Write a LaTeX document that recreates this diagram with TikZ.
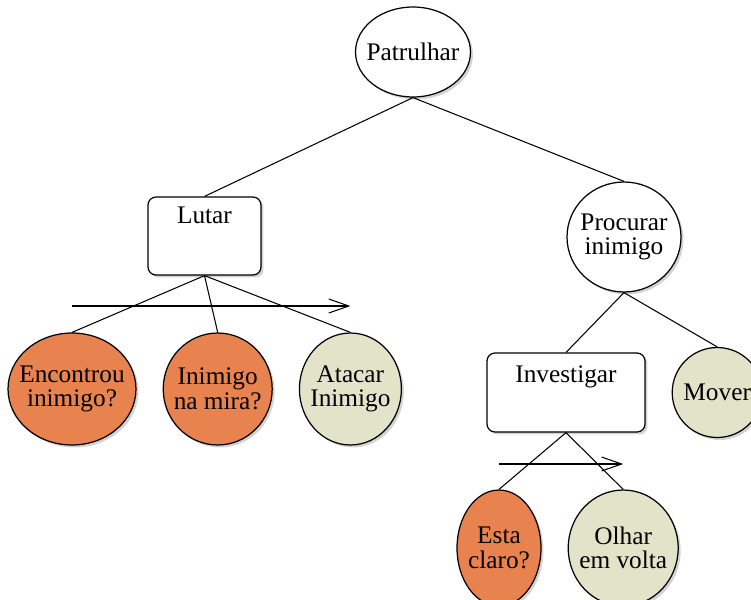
\documentclass[tikz,border=0pt]{standalone}
\usepackage{fontspec}
\setmainfont{Liberation Serif}
\usetikzlibrary{positioning,arrows.meta,shapes,shadows}

\definecolor{condorange}{HTML}{E8824F}
\definecolor{actbeige}{HTML}{E3E3C9}

\begin{document}
\begin{tikzpicture}[x=0.02cm, y=-0.02cm, node distance=0.52cm,
    every node/.style={font=\fontsize{14.4}{14}\selectfont, align=center, inner sep=0pt},
    shadowed/.style={drop shadow={shadow xshift=0.05cm, shadow yshift=-0.05cm, opacity=0.35}},
    oval/.style={ellipse, draw, line width=0.7pt, inner sep=-1cm, shadowed},
    sel/.style={oval, fill=white},
    seqbox/.style={rectangle, rounded corners=0.16cm, draw, line width=0.7pt, fill=white, shadowed},
    cond/.style={oval, fill=condorange},
    act/.style={oval, fill=actbeige},
    seq/.style={line width=0.6pt, -{Straight Barb[length=0.4cm, width=0.28cm]}}]
    \useasboundingbox (0,0) rectangle (751,599);

    % root and first level
    \node[sel, minimum width=2.3cm, minimum height=1.8cm] (patr) at (413,52) {Patrulhar};
    \node[seqbox, minimum width=2.26cm, text height=0.52cm, text depth=1.04cm] (lutar) at (204.5,236) {Lutar};
    \node[sel, minimum width=2.28cm, minimum height=2.2cm] (proc) at (624,237) {Procurar\\inimigo};

    % children of Lutar
    \node[cond, minimum width=2.56cm, minimum height=2.24cm] (enc) at (72,389) {Encontrou\\inimigo?};
    \node[cond, minimum width=2.18cm, minimum height=2.24cm, right=of enc] (mira) {Inimigo\\na mira?};
    \node[act, minimum width=2.04cm, minimum height=2.24cm, right=of mira] (atac) {Atacar\\Inimigo};

    % children of Procurar inimigo
    \node[seqbox, minimum width=3.16cm, text height=0.58cm, text depth=1.0cm] (invest) at (566,392.5) {Investigar};
    \node[act, minimum width=1.8cm, minimum height=1.8cm, right=of invest] (mover) {Mover};

    % children of Investigar
    \node[cond, minimum width=1.68cm, minimum height=2.32cm] (claro) at (499,548) {Esta\\claro?};
    \node[act, minimum width=2.2cm, minimum height=2.32cm, right=of claro] (olhar) {Olhar\\em volta};

    \begin{scope}[line width=0.6pt]
    \draw (patr.south) -- (lutar.north);
    \draw (patr.south) -- (proc.north);
    \draw (lutar.south) -- (enc.north);
    \draw (lutar.south) -- (mira.north);
    \draw (lutar.south) -- (atac.north);
    \draw (proc.south) -- (invest.north);
    \draw (proc.south) -- (mover.north);
    \draw (invest.south) -- (claro.north);
    \draw (invest.south) -- (olhar.north);
    \end{scope}

    % sequence arrows
    \coordinate (lutarA) at (enc |- 0,306);
    \coordinate (lutarB) at (atac |- 0,306);
    \coordinate (investA) at (claro |- 0,464);
    \coordinate (investB) at (olhar |- 0,464);
    \draw[seq] (lutarA) -- (lutarB);
    \draw[seq] (investA) -- (investB);
\end{tikzpicture}
\end{document}
